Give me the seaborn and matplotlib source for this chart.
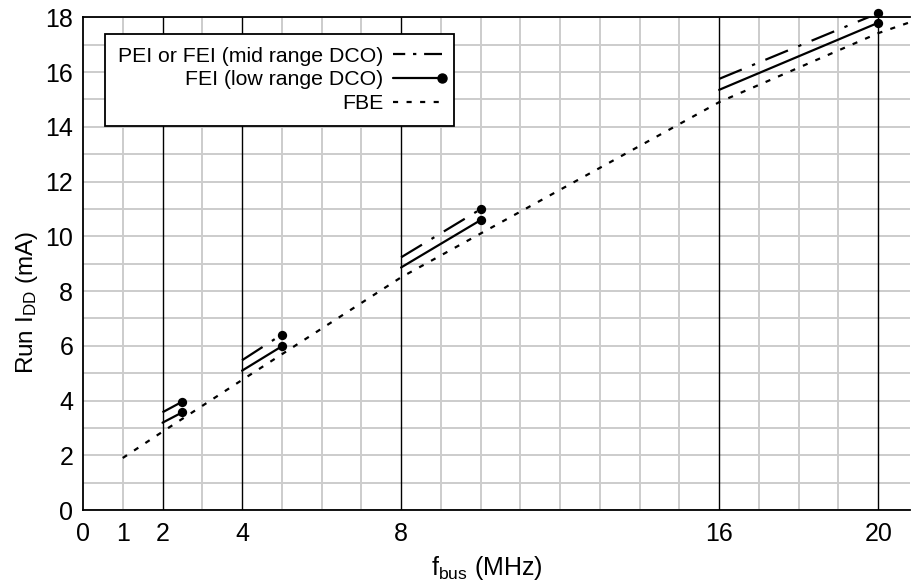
import pandas as pd
import matplotlib.pyplot as plt
import seaborn as sns
from matplotlib.lines import Line2D
from matplotlib.legend_handler import HandlerLine2D

# Values
fbe_x = [1, 2, 4, 8, 16, 20, 20.8]
fbe_y = [1.9, 2.86, 4.75, 8.5, 14.9, 17.42, 17.82]

seg_start = [2, 4, 8, 16]
seg_end = [2.5, 5, 10, 20]
fei_low_start = [3.19, 5.09, 8.86, 15.35]
fei_low_end = [3.57, 5.98, 10.59, 17.8]
pei_mid_start = [3.57, 5.47, 9.23, 15.75]
pei_mid_end = [3.96, 6.41, 10.99, 18.15]

x_ticks = [0, 1, 2, 4, 8, 16, 20]
bold_lines = [2, 4, 8, 16, 20]
y_ticks = list(range(0, 19, 2))

labels = ['PEI or FEI (mid range DCO)', 'FEI (low range DCO)', 'FBE']

# long tables for the segments
def segments(starts, ends):
    rows = []
    for i in range(len(seg_start)):
        rows.append((i, seg_start[i], starts[i]))
        rows.append((i, seg_end[i], ends[i]))
    return pd.DataFrame(rows, columns=['seg', 'f', 'idd'])

low = segments(fei_low_start, fei_low_end)
mid = segments(pei_mid_start, pei_mid_end)
fbe = pd.DataFrame({'f': fbe_x, 'idd': fbe_y})
dots = pd.DataFrame({'f': seg_end + seg_end, 'idd': fei_low_end + pei_mid_end})

sns.set_style('white')
plt.rcParams['font.family'] = ['Liberation Sans', 'DejaVu Sans']
plt.rcParams['mathtext.fontset'] = 'custom'
plt.rcParams['mathtext.rm'] = 'Liberation Sans'
plt.rcParams['text.color'] = 'black'
plt.rcParams['axes.labelcolor'] = 'black'

fig = plt.figure(figsize=(9.11, 5.83), dpi=100)
ax = fig.add_axes([83 / 911, 73 / 583, 827 / 911, 492.7 / 583])

grey = '#cccccc'

# grid
ax.set_xlim(0, 20.8)
ax.set_ylim(0, 18)
ax.set_xticks(x_ticks)
ax.set_xticks([v for v in range(1, 21) if v not in x_ticks], minor=True)
ax.set_yticks(y_ticks)
ax.set_yticks(range(1, 18, 2), minor=True)
ax.grid(which='both', axis='y', color=grey, lw=1.4)
ax.grid(which='minor', axis='x', color=grey, lw=1.4)
ax.axvline(1, color=grey, lw=1.4, zorder=0.5)
ax.vlines(bold_lines, 0, 18, color='black', lw=1.0, zorder=1)

dashdot = (0, (11, 5, 1.5, 5))
dotted = (0, (2.3, 3.8))
lw = 1.6

sns.lineplot(data=fbe, x='f', y='idd', color='black', lw=lw, linestyle=dotted,
             estimator=None, sort=False, ax=ax)
sns.lineplot(data=mid, x='f', y='idd', units='seg', color='black', lw=lw,
             linestyle=dashdot, estimator=None, sort=False, ax=ax)
sns.lineplot(data=low, x='f', y='idd', units='seg', color='black', lw=lw,
             estimator=None, sort=False, ax=ax)
sns.scatterplot(data=dots, x='f', y='idd', color='black', s=45, linewidth=0,
                clip_on=False, zorder=5, ax=ax)

for side in ['left', 'bottom', 'top']:
    ax.spines[side].set_color('black')
    ax.spines[side].set_linewidth(1.3)
ax.spines['right'].set_visible(False)

ax.tick_params(axis='both', which='both', direction='out', labelsize=18,
               colors=grey, labelcolor='black', width=1.4)
ax.tick_params(axis='x', which='both', length=6, pad=2.5)
ax.tick_params(axis='y', which='both', length=4.5, pad=2.5)
ax.tick_params(axis='x', which='major', colors='black', labelcolor='black', width=1.0)
ax.xaxis.get_major_ticks()[1].tick1line.set_color(grey)

ax.set_xlabel(r'$\mathregular{f_{bus}}$ (MHz)', fontsize=18)
ax.set_ylabel(r'Run $\mathregular{I_{DD}}$ (mA)', fontsize=17.5)
ax.xaxis.set_label_coords(0.4885, -0.09)
ax.yaxis.set_label_coords(-0.052, 0.422)


class EndDot(HandlerLine2D):
    # put the marker on the right end of the handle
    def create_artists(self, legend, orig_handle, xdescent, ydescent, width,
                       height, fontsize, trans):
        artists = super().create_artists(legend, orig_handle, xdescent, ydescent,
                                         width, height, fontsize, trans)
        line = artists[0]
        line.set_markevery([len(line.get_xdata()) - 1])
        return artists


handles = [
    Line2D([], [], color='black', lw=lw, linestyle=(0, (5.5, 3.5, 1.5, 3.5, 9, 3))),
    Line2D([], [], color='black', lw=lw, marker='o', markersize=6.5),
    Line2D([], [], color='black', lw=lw, linestyle=dotted),
]
leg = ax.legend(handles, labels, loc='upper left', bbox_to_anchor=(0.0266, 0.966),
                borderaxespad=0, markerfirst=False, fontsize=15.3, frameon=True,
                fancybox=False, framealpha=1, edgecolor='black', handlelength=2.3,
                handletextpad=0.45, labelspacing=0.22, borderpad=0.6,
                handler_map={handles[1]: EndDot(numpoints=1)})
leg.get_frame().set_linewidth(1.3)
leg.set_zorder(10)

fig.savefig('out.png', dpi=100)
